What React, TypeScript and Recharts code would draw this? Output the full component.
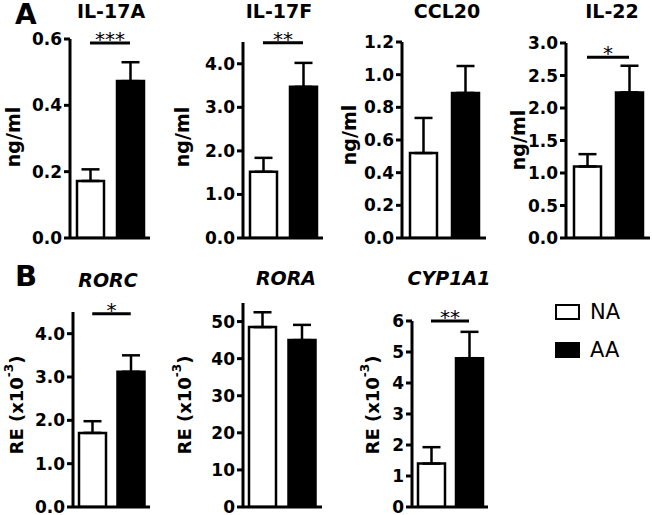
import React from 'react';
import { BarChart, Bar, XAxis, YAxis, ErrorBar, Cell, ReferenceLine, Legend } from 'recharts';

const FONT = '"DejaVu Sans", Verdana, sans-serif';

// ---- data ----
const groups = ['NA', 'AA'];
const groupFills = ['#ffffff', '#000000'];

const il17aMean = [0.172, 0.473];
const il17aSem = [0.035, 0.057];
const il17aTicks = [0, 0.2, 0.4, 0.6];

const il17fMean = [1.52, 3.47];
const il17fSem = [0.32, 0.55];
const il17fTicks = [0, 1, 2, 3, 4];

const ccl20Mean = [0.52, 0.888];
const ccl20Sem = [0.215, 0.165];
const ccl20Ticks = [0, 0.2, 0.4, 0.6, 0.8, 1.0, 1.2];

const il22Mean = [1.1, 2.24];
const il22Sem = [0.19, 0.41];
const il22Ticks = [0, 0.5, 1.0, 1.5, 2.0, 2.5, 3.0];

const rorcMean = [1.71, 3.12];
const rorcSem = [0.27, 0.38];
const rorcTicks = [0, 1, 2, 3, 4];

const roraMean = [48.5, 45.0];
const roraSem = [4.0, 4.1];
const roraTicks = [0, 10, 20, 30, 40, 50];

const cypMean = [1.4, 4.8];
const cypSem = [0.53, 0.85];
const cypTicks = [0, 1, 2, 3, 4, 5, 6];

// ---- panel layout ----
type Cfg = {
  title: string; italic?: boolean; ylabel: 'ng' | 're';
  mean: number[]; sem: number[]; ticks: number[]; domain: [number, number]; decimals: number;
  sig?: { y: number; stars: string };
  left: number; top: number; width: number; height: number;
  plotLeft: number; plotRight: number; plotTop: number; plotBottom: number;
  labelX: number; labelY: number; titleX: number; titleBase: number;
};

const panels: Cfg[] = [
  { title: 'IL-17A', ylabel: 'ng', mean: il17aMean, sem: il17aSem, ticks: il17aTicks, domain: [0, 0.6], decimals: 1,
    sig: { y: 0.588, stars: '***' },
    left: 0, top: 0, width: 160, height: 252, plotLeft: 70, plotRight: 150, plotTop: 39, plotBottom: 238,
    labelX: 13, labelY: 137, titleX: 111, titleBase: 18 },
  { title: 'IL-17F', ylabel: 'ng', mean: il17fMean, sem: il17fSem, ticks: il17fTicks, domain: [0, 4.5], decimals: 1,
    sig: { y: 4.48, stars: '**' },
    left: 160, top: 0, width: 165, height: 252, plotLeft: 243, plotRight: 323, plotTop: 42, plotBottom: 238,
    labelX: 182, labelY: 137, titleX: 279, titleBase: 18 },
  { title: 'CCL20', ylabel: 'ng', mean: ccl20Mean, sem: ccl20Sem, ticks: ccl20Ticks, domain: [0, 1.2], decimals: 1,
    left: 325, top: 0, width: 163, height: 252, plotLeft: 402, plotRight: 486, plotTop: 42, plotBottom: 238,
    labelX: 349, labelY: 135, titleX: 447, titleBase: 18 },
  { title: 'IL-22', ylabel: 'ng', mean: il22Mean, sem: il22Sem, ticks: il22Ticks, domain: [0, 3], decimals: 1,
    sig: { y: 2.78, stars: '*' },
    left: 488, top: 0, width: 164, height: 252, plotLeft: 566, plotRight: 650, plotTop: 43, plotBottom: 238,
    labelX: 518, labelY: 140, titleX: 612, titleBase: 18 },
  { title: 'RORC', italic: true, ylabel: 're', mean: rorcMean, sem: rorcSem, ticks: rorcTicks, domain: [0, 4.5], decimals: 1,
    sig: { y: 4.46, stars: '*' },
    left: 0, top: 262, width: 160, height: 262, plotLeft: 73, plotRight: 150, plotTop: 312, plotBottom: 507,
    labelX: 16, labelY: 405, titleX: 108, titleBase: 287 },
  { title: 'RORA', italic: true, ylabel: 're', mean: roraMean, sem: roraSem, ticks: roraTicks, domain: [0, 55], decimals: 0,
    left: 165, top: 262, width: 160, height: 262, plotLeft: 243, plotRight: 322, plotTop: 303, plotBottom: 507,
    labelX: 184, labelY: 405, titleX: 286, titleBase: 285 },
  { title: 'CYP1A1', italic: true, ylabel: 're', mean: cypMean, sem: cypSem, ticks: cypTicks, domain: [0, 6], decimals: 0,
    sig: { y: 6.0, stars: '**' },
    left: 330, top: 262, width: 322, height: 262, plotLeft: 412, plotRight: 488, plotTop: 321, plotBottom: 507,
    labelX: 372, labelY: 405, titleX: 449, titleBase: 285 },
];

const YTitle = ({ lx, ly, kind }: { lx: number; ly: number; kind: 'ng' | 're' }) => (
  <text
    x={lx}
    y={ly}
    transform={`rotate(-90, ${lx}, ${ly})`}
    textAnchor="middle"
    dominantBaseline="central"
    fontFamily={FONT}
    fontWeight={700}
    fontSize={kind === 'ng' ? 19 : 18}
    fill="#000"
  >
    {kind === 'ng' ? 'ng/ml' : (
      <>
        RE (x10<tspan dy={-7} fontSize={12}>-3</tspan><tspan dy={7}>)</tspan>
      </>
    )}
  </text>
);

const LegendBox = () => (
  <div style={{ fontFamily: FONT, fontSize: 21, color: '#000' }}>
    {groups.map((g, i) => (
      <div key={g} style={{ display: 'flex', alignItems: 'center', height: 38 }}>
        <div style={{ width: 21, height: 12, border: '2px solid #000', background: groupFills[i], marginRight: 10 }} />
        <span style={{ lineHeight: '21px' }}>{g}</span>
      </div>
    ))}
  </div>
);

function Panel({ cfg, withLegend }: { cfg: Cfg; withLegend?: boolean }) {
  const data = groups.map((g, i) => ({ group: g, value: cfg.mean[i], err: [0, cfg.sem[i]] }));
  const margin = {
    top: cfg.plotTop - cfg.top,
    right: cfg.left + cfg.width - cfg.plotRight,
    bottom: cfg.top + cfg.height - cfg.plotBottom - 2,
    left: 0,
  };
  return (
    <div style={{ position: 'absolute', left: cfg.left, top: cfg.top }}>
      <BarChart width={cfg.width} height={cfg.height} data={data} margin={margin}>
        <XAxis dataKey="group" tick={false} tickLine={false} height={2}
          axisLine={{ stroke: '#000', strokeWidth: 3 }} />
        <YAxis
          type="number"
          domain={cfg.domain}
          ticks={cfg.ticks}
          interval={0}
          allowDataOverflow
          width={cfg.plotLeft - cfg.left}
          tickFormatter={(v: number) => v.toFixed(cfg.decimals)}
          tick={{ fill: '#000', fontSize: 17, fontWeight: 700, fontFamily: FONT }}
          tickSize={6}
          tickLine={{ stroke: '#000', strokeWidth: 3 }}
          axisLine={{ stroke: '#000', strokeWidth: 3 }}
          label={<YTitle lx={cfg.labelX - cfg.left} ly={cfg.labelY - cfg.top} kind={cfg.ylabel} />}
        />
        {cfg.sig && (
          <ReferenceLine
            segment={[{ x: groups[0], y: cfg.sig.y }, { x: groups[1], y: cfg.sig.y }]}
            stroke="#000"
            strokeWidth={3}
            ifOverflow="visible"
            label={{ value: cfg.sig.stars, position: 'top', offset: -3, fontSize: 20, fill: '#000', fontFamily: FONT }}
          />
        )}
        <Bar dataKey="value" barSize={27} stroke="#000" strokeWidth={2.5} isAnimationActive={false}>
          {data.map((d, i) => <Cell key={d.group} fill={groupFills[i]} />)}
          <ErrorBar dataKey="err" width={9} stroke="#000" strokeWidth={2.5} direction="y" />
        </Bar>
        {withLegend && (
          <Legend
            layout="vertical"
            align="center"
            verticalAlign="middle"
            content={() => <LegendBox />}
            wrapperStyle={{ left: 555 - cfg.left, top: 293 - cfg.top, width: 90 }}
          />
        )}
      </BarChart>
    </div>
  );
}

const Heading = ({ text, cx, base, size, italic }: { text: string; cx: number; base: number; size: number; italic?: boolean }) => (
  <div style={{
    position: 'absolute', left: cx - 60, width: 120, top: base - 0.846 * size, textAlign: 'center',
    fontFamily: FONT, fontWeight: 700, fontSize: size, lineHeight: `${size}px`, fontStyle: italic ? 'italic' : 'normal',
    color: '#000', whiteSpace: 'nowrap',
  }}>{text}</div>
);

export default function App() {
  return (
    <div style={{ position: 'absolute', left: 0, top: 0, width: 652, height: 515, background: '#fff' }}>
      <div style={{ position: 'absolute', left: 15, top: 25 - 0.846 * 28, fontFamily: FONT, fontWeight: 700, fontSize: 28, lineHeight: '28px' }}>A</div>
      <div style={{ position: 'absolute', left: 15, top: 287 - 0.846 * 29, fontFamily: FONT, fontWeight: 700, fontSize: 29, lineHeight: '29px' }}>B</div>
      {panels.map((p) => (
        <Heading key={'h' + p.title} text={p.title} cx={p.titleX} base={p.titleBase} size={19} italic={p.italic} />
      ))}
      {panels.map((p, i) => (
        <Panel key={p.title} cfg={p} withLegend={i === panels.length - 1} />
      ))}
    </div>
  );
}
